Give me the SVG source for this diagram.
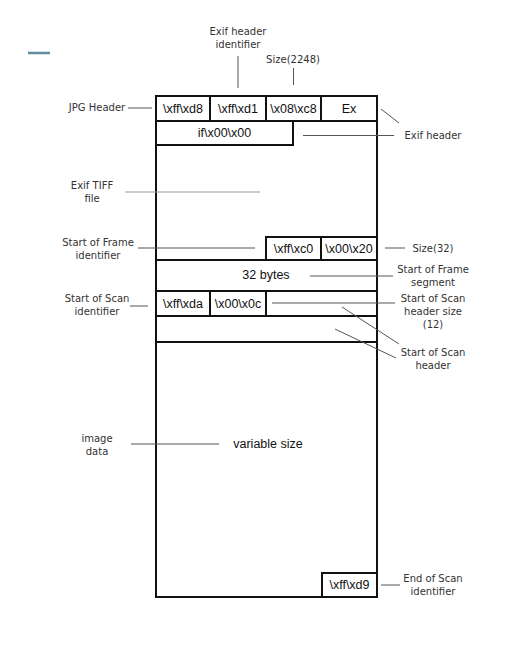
<svg xmlns="http://www.w3.org/2000/svg" width="519" height="655" viewBox="0 0 519 655">
<style>
.box{fill:none;stroke:#111;stroke-width:2}
.bt{font-family:"Liberation Sans",Arial,sans-serif;font-size:12.5px;fill:#111;text-anchor:middle;dominant-baseline:central}
.lb{font-family:"DejaVu Sans",sans-serif;font-size:10px;fill:#333;text-anchor:middle}
.ln{stroke:#555;stroke-width:1;fill:none}
.ln2{stroke:#999;stroke-width:1;fill:none}
</style>
<rect width="519" height="655" fill="#fff"/>
<line x1="28" y1="53" x2="50" y2="53" stroke="#5f8f9f" stroke-width="2.5"/>
<g id="outer"><rect class="box" x="156" y="96" width="221" height="501"/></g>
<g id="n-ffd8"><rect class="box" x="156" y="96" width="54" height="25"/><text class="bt" x="183" y="108.5">\xff\xd8</text></g>
<g id="n-ffd1"><rect class="box" x="210" y="96" width="56" height="25"/><text class="bt" x="238" y="108.5">\xff\xd1</text></g>
<g id="n-08c8"><rect class="box" x="266" y="96" width="55" height="25"/><text class="bt" x="293.5" y="108.5">\x08\xc8</text></g>
<g id="n-ex"><rect class="box" x="321" y="96" width="56" height="25"/><text class="bt" x="349" y="108.5">Ex</text></g>
<g id="n-if"><rect class="box" x="156" y="121" width="137" height="24"/><text class="bt" x="224.5" y="133">if\x00\x00</text></g>
<g id="n-ffc0"><rect class="box" x="266" y="237" width="55" height="23"/><text class="bt" x="293.5" y="248.5">\xff\xc0</text></g>
<g id="n-0020"><rect class="box" x="321" y="237" width="56" height="23"/><text class="bt" x="349" y="248.5">\x00\x20</text></g>
<g id="n-32bytes"><rect class="box" x="156" y="260" width="221" height="31"/><text class="bt" x="266" y="275">32 bytes</text></g>
<g id="n-ffda"><rect class="box" x="156" y="291" width="54" height="25"/><text class="bt" x="183" y="303.5">\xff\xda</text></g>
<g id="n-000c"><rect class="box" x="210" y="291" width="56" height="25"/><text class="bt" x="238" y="303.5">\x00\x0c</text></g>
<g id="n-sosrest"><rect class="box" x="266" y="291" width="111" height="25"/></g>
<g id="n-soshdr"><rect class="box" x="156" y="316" width="221" height="26"/></g>
<g id="n-var"><text class="bt" x="268" y="444">variable size</text></g>
<g id="n-ffd9"><rect class="box" x="322" y="573" width="55" height="24"/><text class="bt" x="349.5" y="585">\xff\xd9</text></g>
<g id="labels">
<text class="lb" x="238" y="35">Exif header</text>
<text class="lb" x="238" y="48">identifier</text>
<text class="lb" x="293" y="63">Size(2248)</text>
<text class="lb" x="97" y="111">JPG Header</text>
<text class="lb" x="433" y="139">Exif header</text>
<text class="lb" x="92" y="189">Exif TIFF</text>
<text class="lb" x="92" y="202">file</text>
<text class="lb" x="98" y="246">Start of Frame</text>
<text class="lb" x="98" y="259">identifier</text>
<text class="lb" x="433" y="252">Size(32)</text>
<text class="lb" x="433" y="273">Start of Frame</text>
<text class="lb" x="433" y="286">segment</text>
<text class="lb" x="97" y="302">Start of Scan</text>
<text class="lb" x="97" y="315">identifier</text>
<text class="lb" x="433" y="302">Start of Scan</text>
<text class="lb" x="433" y="315">header size</text>
<text class="lb" x="433" y="328">(12)</text>
<text class="lb" x="433" y="356">Start of Scan</text>
<text class="lb" x="433" y="369">header</text>
<text class="lb" x="97" y="442">image</text>
<text class="lb" x="97" y="455">data</text>
<text class="lb" x="433" y="582">End of Scan</text>
<text class="lb" x="433" y="595">identifier</text>
</g>
<g id="connectors">
<line class="ln" x1="238" y1="56" x2="238" y2="88"/>
<line class="ln" x1="293.5" y1="68" x2="293.5" y2="85"/>
<line class="ln" x1="128" y1="108" x2="152" y2="108"/>
<line class="ln" x1="381" y1="109" x2="399" y2="123"/>
<line class="ln" x1="303" y1="135.5" x2="394" y2="135.5"/>
<line class="ln2" x1="125" y1="192" x2="260" y2="192"/>
<line class="ln" x1="138" y1="248" x2="255" y2="248"/>
<line class="ln" x1="385" y1="248" x2="405" y2="248"/>
<line class="ln" x1="310" y1="276" x2="393" y2="276"/>
<line class="ln" x1="272" y1="303" x2="395" y2="303"/>
<line class="ln" x1="130" y1="306" x2="148" y2="306"/>
<line class="ln" x1="342" y1="307" x2="399" y2="344"/>
<line class="ln" x1="335" y1="329" x2="396" y2="358"/>
<line class="ln" x1="131" y1="444" x2="219" y2="444"/>
<line class="ln" x1="381" y1="585" x2="400" y2="585"/>
</g>
</svg>
